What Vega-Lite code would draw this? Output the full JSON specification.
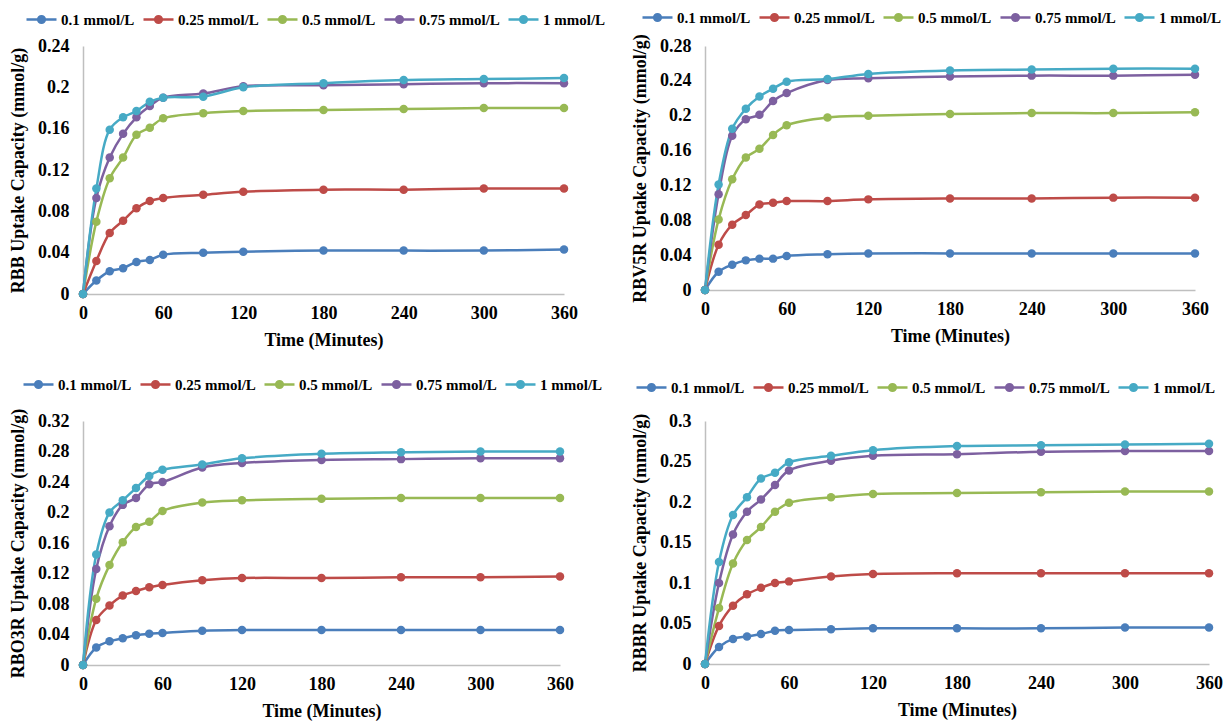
{
  "$schema": "https://vega.github.io/schema/vega-lite/v6.json",
  "background": "white",
  "padding": {"left": 9, "top": 1, "right": 4, "bottom": 2},
  "bounds": "flush",
  "columns": 2,
  "spacing": {"row": 127, "column": 141},
  "resolve": {"legend": {"color": "independent"}},
  "data": {"values": [
    {"panel":"RBB","conc":"0.1 mmol/L","time":0,"value":0},{"panel":"RBB","conc":"0.1 mmol/L","time":10,"value":0.013},{"panel":"RBB","conc":"0.1 mmol/L","time":20,"value":0.022},{"panel":"RBB","conc":"0.1 mmol/L","time":30,"value":0.025},{"panel":"RBB","conc":"0.1 mmol/L","time":40,"value":0.031},{"panel":"RBB","conc":"0.1 mmol/L","time":50,"value":0.033},{"panel":"RBB","conc":"0.1 mmol/L","time":60,"value":0.038},{"panel":"RBB","conc":"0.1 mmol/L","time":90,"value":0.040},{"panel":"RBB","conc":"0.1 mmol/L","time":120,"value":0.041},{"panel":"RBB","conc":"0.1 mmol/L","time":180,"value":0.042},{"panel":"RBB","conc":"0.1 mmol/L","time":240,"value":0.042},{"panel":"RBB","conc":"0.1 mmol/L","time":300,"value":0.042},{"panel":"RBB","conc":"0.1 mmol/L","time":360,"value":0.043},
    {"panel":"RBB","conc":"0.25 mmol/L","time":0,"value":0},{"panel":"RBB","conc":"0.25 mmol/L","time":10,"value":0.032},{"panel":"RBB","conc":"0.25 mmol/L","time":20,"value":0.059},{"panel":"RBB","conc":"0.25 mmol/L","time":30,"value":0.071},{"panel":"RBB","conc":"0.25 mmol/L","time":40,"value":0.083},{"panel":"RBB","conc":"0.25 mmol/L","time":50,"value":0.090},{"panel":"RBB","conc":"0.25 mmol/L","time":60,"value":0.093},{"panel":"RBB","conc":"0.25 mmol/L","time":90,"value":0.096},{"panel":"RBB","conc":"0.25 mmol/L","time":120,"value":0.099},{"panel":"RBB","conc":"0.25 mmol/L","time":180,"value":0.101},{"panel":"RBB","conc":"0.25 mmol/L","time":240,"value":0.101},{"panel":"RBB","conc":"0.25 mmol/L","time":300,"value":0.102},{"panel":"RBB","conc":"0.25 mmol/L","time":360,"value":0.102},
    {"panel":"RBB","conc":"0.5 mmol/L","time":0,"value":0},{"panel":"RBB","conc":"0.5 mmol/L","time":10,"value":0.070},{"panel":"RBB","conc":"0.5 mmol/L","time":20,"value":0.112},{"panel":"RBB","conc":"0.5 mmol/L","time":30,"value":0.132},{"panel":"RBB","conc":"0.5 mmol/L","time":40,"value":0.154},{"panel":"RBB","conc":"0.5 mmol/L","time":50,"value":0.161},{"panel":"RBB","conc":"0.5 mmol/L","time":60,"value":0.170},{"panel":"RBB","conc":"0.5 mmol/L","time":90,"value":0.175},{"panel":"RBB","conc":"0.5 mmol/L","time":120,"value":0.177},{"panel":"RBB","conc":"0.5 mmol/L","time":180,"value":0.178},{"panel":"RBB","conc":"0.5 mmol/L","time":240,"value":0.179},{"panel":"RBB","conc":"0.5 mmol/L","time":300,"value":0.180},{"panel":"RBB","conc":"0.5 mmol/L","time":360,"value":0.180},
    {"panel":"RBB","conc":"0.75 mmol/L","time":0,"value":0},{"panel":"RBB","conc":"0.75 mmol/L","time":10,"value":0.093},{"panel":"RBB","conc":"0.75 mmol/L","time":20,"value":0.132},{"panel":"RBB","conc":"0.75 mmol/L","time":30,"value":0.155},{"panel":"RBB","conc":"0.75 mmol/L","time":40,"value":0.171},{"panel":"RBB","conc":"0.75 mmol/L","time":50,"value":0.182},{"panel":"RBB","conc":"0.75 mmol/L","time":60,"value":0.190},{"panel":"RBB","conc":"0.75 mmol/L","time":90,"value":0.194},{"panel":"RBB","conc":"0.75 mmol/L","time":120,"value":0.201},{"panel":"RBB","conc":"0.75 mmol/L","time":180,"value":0.202},{"panel":"RBB","conc":"0.75 mmol/L","time":240,"value":0.203},{"panel":"RBB","conc":"0.75 mmol/L","time":300,"value":0.204},{"panel":"RBB","conc":"0.75 mmol/L","time":360,"value":0.204},
    {"panel":"RBB","conc":"1 mmol/L","time":0,"value":0},{"panel":"RBB","conc":"1 mmol/L","time":10,"value":0.102},{"panel":"RBB","conc":"1 mmol/L","time":20,"value":0.159},{"panel":"RBB","conc":"1 mmol/L","time":30,"value":0.171},{"panel":"RBB","conc":"1 mmol/L","time":40,"value":0.177},{"panel":"RBB","conc":"1 mmol/L","time":50,"value":0.186},{"panel":"RBB","conc":"1 mmol/L","time":60,"value":0.190},{"panel":"RBB","conc":"1 mmol/L","time":90,"value":0.191},{"panel":"RBB","conc":"1 mmol/L","time":120,"value":0.200},{"panel":"RBB","conc":"1 mmol/L","time":180,"value":0.204},{"panel":"RBB","conc":"1 mmol/L","time":240,"value":0.207},{"panel":"RBB","conc":"1 mmol/L","time":300,"value":0.208},{"panel":"RBB","conc":"1 mmol/L","time":360,"value":0.209},

    {"panel":"RBV5R","conc":"0.1 mmol/L","time":0,"value":0},{"panel":"RBV5R","conc":"0.1 mmol/L","time":10,"value":0.021},{"panel":"RBV5R","conc":"0.1 mmol/L","time":20,"value":0.029},{"panel":"RBV5R","conc":"0.1 mmol/L","time":30,"value":0.034},{"panel":"RBV5R","conc":"0.1 mmol/L","time":40,"value":0.036},{"panel":"RBV5R","conc":"0.1 mmol/L","time":50,"value":0.036},{"panel":"RBV5R","conc":"0.1 mmol/L","time":60,"value":0.039},{"panel":"RBV5R","conc":"0.1 mmol/L","time":90,"value":0.041},{"panel":"RBV5R","conc":"0.1 mmol/L","time":120,"value":0.042},{"panel":"RBV5R","conc":"0.1 mmol/L","time":180,"value":0.042},{"panel":"RBV5R","conc":"0.1 mmol/L","time":240,"value":0.042},{"panel":"RBV5R","conc":"0.1 mmol/L","time":300,"value":0.042},{"panel":"RBV5R","conc":"0.1 mmol/L","time":360,"value":0.042},
    {"panel":"RBV5R","conc":"0.25 mmol/L","time":0,"value":0},{"panel":"RBV5R","conc":"0.25 mmol/L","time":10,"value":0.052},{"panel":"RBV5R","conc":"0.25 mmol/L","time":20,"value":0.075},{"panel":"RBV5R","conc":"0.25 mmol/L","time":30,"value":0.086},{"panel":"RBV5R","conc":"0.25 mmol/L","time":40,"value":0.098},{"panel":"RBV5R","conc":"0.25 mmol/L","time":50,"value":0.100},{"panel":"RBV5R","conc":"0.25 mmol/L","time":60,"value":0.102},{"panel":"RBV5R","conc":"0.25 mmol/L","time":90,"value":0.102},{"panel":"RBV5R","conc":"0.25 mmol/L","time":120,"value":0.104},{"panel":"RBV5R","conc":"0.25 mmol/L","time":180,"value":0.105},{"panel":"RBV5R","conc":"0.25 mmol/L","time":240,"value":0.105},{"panel":"RBV5R","conc":"0.25 mmol/L","time":300,"value":0.106},{"panel":"RBV5R","conc":"0.25 mmol/L","time":360,"value":0.106},
    {"panel":"RBV5R","conc":"0.5 mmol/L","time":0,"value":0},{"panel":"RBV5R","conc":"0.5 mmol/L","time":10,"value":0.081},{"panel":"RBV5R","conc":"0.5 mmol/L","time":20,"value":0.127},{"panel":"RBV5R","conc":"0.5 mmol/L","time":30,"value":0.152},{"panel":"RBV5R","conc":"0.5 mmol/L","time":40,"value":0.162},{"panel":"RBV5R","conc":"0.5 mmol/L","time":50,"value":0.178},{"panel":"RBV5R","conc":"0.5 mmol/L","time":60,"value":0.189},{"panel":"RBV5R","conc":"0.5 mmol/L","time":90,"value":0.198},{"panel":"RBV5R","conc":"0.5 mmol/L","time":120,"value":0.200},{"panel":"RBV5R","conc":"0.5 mmol/L","time":180,"value":0.202},{"panel":"RBV5R","conc":"0.5 mmol/L","time":240,"value":0.203},{"panel":"RBV5R","conc":"0.5 mmol/L","time":300,"value":0.203},{"panel":"RBV5R","conc":"0.5 mmol/L","time":360,"value":0.204},
    {"panel":"RBV5R","conc":"0.75 mmol/L","time":0,"value":0},{"panel":"RBV5R","conc":"0.75 mmol/L","time":10,"value":0.110},{"panel":"RBV5R","conc":"0.75 mmol/L","time":20,"value":0.177},{"panel":"RBV5R","conc":"0.75 mmol/L","time":30,"value":0.196},{"panel":"RBV5R","conc":"0.75 mmol/L","time":40,"value":0.201},{"panel":"RBV5R","conc":"0.75 mmol/L","time":50,"value":0.217},{"panel":"RBV5R","conc":"0.75 mmol/L","time":60,"value":0.226},{"panel":"RBV5R","conc":"0.75 mmol/L","time":90,"value":0.241},{"panel":"RBV5R","conc":"0.75 mmol/L","time":120,"value":0.243},{"panel":"RBV5R","conc":"0.75 mmol/L","time":180,"value":0.245},{"panel":"RBV5R","conc":"0.75 mmol/L","time":240,"value":0.246},{"panel":"RBV5R","conc":"0.75 mmol/L","time":300,"value":0.246},{"panel":"RBV5R","conc":"0.75 mmol/L","time":360,"value":0.247},
    {"panel":"RBV5R","conc":"1 mmol/L","time":0,"value":0},{"panel":"RBV5R","conc":"1 mmol/L","time":10,"value":0.121},{"panel":"RBV5R","conc":"1 mmol/L","time":20,"value":0.185},{"panel":"RBV5R","conc":"1 mmol/L","time":30,"value":0.208},{"panel":"RBV5R","conc":"1 mmol/L","time":40,"value":0.222},{"panel":"RBV5R","conc":"1 mmol/L","time":50,"value":0.231},{"panel":"RBV5R","conc":"1 mmol/L","time":60,"value":0.239},{"panel":"RBV5R","conc":"1 mmol/L","time":90,"value":0.242},{"panel":"RBV5R","conc":"1 mmol/L","time":120,"value":0.248},{"panel":"RBV5R","conc":"1 mmol/L","time":180,"value":0.252},{"panel":"RBV5R","conc":"1 mmol/L","time":240,"value":0.253},{"panel":"RBV5R","conc":"1 mmol/L","time":300,"value":0.254},{"panel":"RBV5R","conc":"1 mmol/L","time":360,"value":0.254},

    {"panel":"RBO3R","conc":"0.1 mmol/L","time":0,"value":0},{"panel":"RBO3R","conc":"0.1 mmol/L","time":10,"value":0.023},{"panel":"RBO3R","conc":"0.1 mmol/L","time":20,"value":0.031},{"panel":"RBO3R","conc":"0.1 mmol/L","time":30,"value":0.035},{"panel":"RBO3R","conc":"0.1 mmol/L","time":40,"value":0.039},{"panel":"RBO3R","conc":"0.1 mmol/L","time":50,"value":0.041},{"panel":"RBO3R","conc":"0.1 mmol/L","time":60,"value":0.042},{"panel":"RBO3R","conc":"0.1 mmol/L","time":90,"value":0.045},{"panel":"RBO3R","conc":"0.1 mmol/L","time":120,"value":0.046},{"panel":"RBO3R","conc":"0.1 mmol/L","time":180,"value":0.046},{"panel":"RBO3R","conc":"0.1 mmol/L","time":240,"value":0.046},{"panel":"RBO3R","conc":"0.1 mmol/L","time":300,"value":0.046},{"panel":"RBO3R","conc":"0.1 mmol/L","time":360,"value":0.046},
    {"panel":"RBO3R","conc":"0.25 mmol/L","time":0,"value":0},{"panel":"RBO3R","conc":"0.25 mmol/L","time":10,"value":0.059},{"panel":"RBO3R","conc":"0.25 mmol/L","time":20,"value":0.078},{"panel":"RBO3R","conc":"0.25 mmol/L","time":30,"value":0.091},{"panel":"RBO3R","conc":"0.25 mmol/L","time":40,"value":0.097},{"panel":"RBO3R","conc":"0.25 mmol/L","time":50,"value":0.102},{"panel":"RBO3R","conc":"0.25 mmol/L","time":60,"value":0.105},{"panel":"RBO3R","conc":"0.25 mmol/L","time":90,"value":0.111},{"panel":"RBO3R","conc":"0.25 mmol/L","time":120,"value":0.114},{"panel":"RBO3R","conc":"0.25 mmol/L","time":180,"value":0.114},{"panel":"RBO3R","conc":"0.25 mmol/L","time":240,"value":0.115},{"panel":"RBO3R","conc":"0.25 mmol/L","time":300,"value":0.115},{"panel":"RBO3R","conc":"0.25 mmol/L","time":360,"value":0.116},
    {"panel":"RBO3R","conc":"0.5 mmol/L","time":0,"value":0},{"panel":"RBO3R","conc":"0.5 mmol/L","time":10,"value":0.087},{"panel":"RBO3R","conc":"0.5 mmol/L","time":20,"value":0.131},{"panel":"RBO3R","conc":"0.5 mmol/L","time":30,"value":0.161},{"panel":"RBO3R","conc":"0.5 mmol/L","time":40,"value":0.181},{"panel":"RBO3R","conc":"0.5 mmol/L","time":50,"value":0.188},{"panel":"RBO3R","conc":"0.5 mmol/L","time":60,"value":0.202},{"panel":"RBO3R","conc":"0.5 mmol/L","time":90,"value":0.213},{"panel":"RBO3R","conc":"0.5 mmol/L","time":120,"value":0.216},{"panel":"RBO3R","conc":"0.5 mmol/L","time":180,"value":0.218},{"panel":"RBO3R","conc":"0.5 mmol/L","time":240,"value":0.219},{"panel":"RBO3R","conc":"0.5 mmol/L","time":300,"value":0.219},{"panel":"RBO3R","conc":"0.5 mmol/L","time":360,"value":0.219},
    {"panel":"RBO3R","conc":"0.75 mmol/L","time":0,"value":0},{"panel":"RBO3R","conc":"0.75 mmol/L","time":10,"value":0.126},{"panel":"RBO3R","conc":"0.75 mmol/L","time":20,"value":0.182},{"panel":"RBO3R","conc":"0.75 mmol/L","time":30,"value":0.210},{"panel":"RBO3R","conc":"0.75 mmol/L","time":40,"value":0.219},{"panel":"RBO3R","conc":"0.75 mmol/L","time":50,"value":0.237},{"panel":"RBO3R","conc":"0.75 mmol/L","time":60,"value":0.240},{"panel":"RBO3R","conc":"0.75 mmol/L","time":90,"value":0.259},{"panel":"RBO3R","conc":"0.75 mmol/L","time":120,"value":0.265},{"panel":"RBO3R","conc":"0.75 mmol/L","time":180,"value":0.269},{"panel":"RBO3R","conc":"0.75 mmol/L","time":240,"value":0.270},{"panel":"RBO3R","conc":"0.75 mmol/L","time":300,"value":0.271},{"panel":"RBO3R","conc":"0.75 mmol/L","time":360,"value":0.271},
    {"panel":"RBO3R","conc":"1 mmol/L","time":0,"value":0},{"panel":"RBO3R","conc":"1 mmol/L","time":10,"value":0.145},{"panel":"RBO3R","conc":"1 mmol/L","time":20,"value":0.200},{"panel":"RBO3R","conc":"1 mmol/L","time":30,"value":0.216},{"panel":"RBO3R","conc":"1 mmol/L","time":40,"value":0.232},{"panel":"RBO3R","conc":"1 mmol/L","time":50,"value":0.248},{"panel":"RBO3R","conc":"1 mmol/L","time":60,"value":0.256},{"panel":"RBO3R","conc":"1 mmol/L","time":90,"value":0.263},{"panel":"RBO3R","conc":"1 mmol/L","time":120,"value":0.271},{"panel":"RBO3R","conc":"1 mmol/L","time":180,"value":0.277},{"panel":"RBO3R","conc":"1 mmol/L","time":240,"value":0.279},{"panel":"RBO3R","conc":"1 mmol/L","time":300,"value":0.280},{"panel":"RBO3R","conc":"1 mmol/L","time":360,"value":0.280},

    {"panel":"RBBR","conc":"0.1 mmol/L","time":0,"value":0},{"panel":"RBBR","conc":"0.1 mmol/L","time":10,"value":0.021},{"panel":"RBBR","conc":"0.1 mmol/L","time":20,"value":0.031},{"panel":"RBBR","conc":"0.1 mmol/L","time":30,"value":0.034},{"panel":"RBBR","conc":"0.1 mmol/L","time":40,"value":0.037},{"panel":"RBBR","conc":"0.1 mmol/L","time":50,"value":0.041},{"panel":"RBBR","conc":"0.1 mmol/L","time":60,"value":0.042},{"panel":"RBBR","conc":"0.1 mmol/L","time":90,"value":0.043},{"panel":"RBBR","conc":"0.1 mmol/L","time":120,"value":0.044},{"panel":"RBBR","conc":"0.1 mmol/L","time":180,"value":0.044},{"panel":"RBBR","conc":"0.1 mmol/L","time":240,"value":0.044},{"panel":"RBBR","conc":"0.1 mmol/L","time":300,"value":0.045},{"panel":"RBBR","conc":"0.1 mmol/L","time":360,"value":0.045},
    {"panel":"RBBR","conc":"0.25 mmol/L","time":0,"value":0},{"panel":"RBBR","conc":"0.25 mmol/L","time":10,"value":0.047},{"panel":"RBBR","conc":"0.25 mmol/L","time":20,"value":0.072},{"panel":"RBBR","conc":"0.25 mmol/L","time":30,"value":0.086},{"panel":"RBBR","conc":"0.25 mmol/L","time":40,"value":0.094},{"panel":"RBBR","conc":"0.25 mmol/L","time":50,"value":0.100},{"panel":"RBBR","conc":"0.25 mmol/L","time":60,"value":0.102},{"panel":"RBBR","conc":"0.25 mmol/L","time":90,"value":0.108},{"panel":"RBBR","conc":"0.25 mmol/L","time":120,"value":0.111},{"panel":"RBBR","conc":"0.25 mmol/L","time":180,"value":0.112},{"panel":"RBBR","conc":"0.25 mmol/L","time":240,"value":0.112},{"panel":"RBBR","conc":"0.25 mmol/L","time":300,"value":0.112},{"panel":"RBBR","conc":"0.25 mmol/L","time":360,"value":0.112},
    {"panel":"RBBR","conc":"0.5 mmol/L","time":0,"value":0},{"panel":"RBBR","conc":"0.5 mmol/L","time":10,"value":0.069},{"panel":"RBBR","conc":"0.5 mmol/L","time":20,"value":0.124},{"panel":"RBBR","conc":"0.5 mmol/L","time":30,"value":0.153},{"panel":"RBBR","conc":"0.5 mmol/L","time":40,"value":0.169},{"panel":"RBBR","conc":"0.5 mmol/L","time":50,"value":0.188},{"panel":"RBBR","conc":"0.5 mmol/L","time":60,"value":0.199},{"panel":"RBBR","conc":"0.5 mmol/L","time":90,"value":0.206},{"panel":"RBBR","conc":"0.5 mmol/L","time":120,"value":0.210},{"panel":"RBBR","conc":"0.5 mmol/L","time":180,"value":0.211},{"panel":"RBBR","conc":"0.5 mmol/L","time":240,"value":0.212},{"panel":"RBBR","conc":"0.5 mmol/L","time":300,"value":0.213},{"panel":"RBBR","conc":"0.5 mmol/L","time":360,"value":0.213},
    {"panel":"RBBR","conc":"0.75 mmol/L","time":0,"value":0},{"panel":"RBBR","conc":"0.75 mmol/L","time":10,"value":0.100},{"panel":"RBBR","conc":"0.75 mmol/L","time":20,"value":0.160},{"panel":"RBBR","conc":"0.75 mmol/L","time":30,"value":0.188},{"panel":"RBBR","conc":"0.75 mmol/L","time":40,"value":0.203},{"panel":"RBBR","conc":"0.75 mmol/L","time":50,"value":0.221},{"panel":"RBBR","conc":"0.75 mmol/L","time":60,"value":0.239},{"panel":"RBBR","conc":"0.75 mmol/L","time":90,"value":0.251},{"panel":"RBBR","conc":"0.75 mmol/L","time":120,"value":0.257},{"panel":"RBBR","conc":"0.75 mmol/L","time":180,"value":0.259},{"panel":"RBBR","conc":"0.75 mmol/L","time":240,"value":0.262},{"panel":"RBBR","conc":"0.75 mmol/L","time":300,"value":0.263},{"panel":"RBBR","conc":"0.75 mmol/L","time":360,"value":0.263},
    {"panel":"RBBR","conc":"1 mmol/L","time":0,"value":0},{"panel":"RBBR","conc":"1 mmol/L","time":10,"value":0.126},{"panel":"RBBR","conc":"1 mmol/L","time":20,"value":0.184},{"panel":"RBBR","conc":"1 mmol/L","time":30,"value":0.206},{"panel":"RBBR","conc":"1 mmol/L","time":40,"value":0.229},{"panel":"RBBR","conc":"1 mmol/L","time":50,"value":0.236},{"panel":"RBBR","conc":"1 mmol/L","time":60,"value":0.249},{"panel":"RBBR","conc":"1 mmol/L","time":90,"value":0.257},{"panel":"RBBR","conc":"1 mmol/L","time":120,"value":0.264},{"panel":"RBBR","conc":"1 mmol/L","time":180,"value":0.269},{"panel":"RBBR","conc":"1 mmol/L","time":240,"value":0.270},{"panel":"RBBR","conc":"1 mmol/L","time":300,"value":0.271},{"panel":"RBBR","conc":"1 mmol/L","time":360,"value":0.272}
  ]},
  "concat": [
    {
      "width": 481, "height": 248,
      "transform": [{"filter": "datum.panel === 'RBB'"}],
      "mark": {"type": "line", "interpolate": "catmull-rom", "strokeWidth": 2.5, "point": {"filled": true, "size": 72, "opacity": 1}},
      "encoding": {
        "x": {"field": "time", "type": "quantitative", "scale": {"domain": [0, 360], "nice": false}, "axis": {"values": [0, 60, 120, 180, 240, 300, 360], "title": "Time (Minutes)"}},
        "y": {"field": "value", "type": "quantitative", "scale": {"domain": [0, 0.24], "nice": false}, "axis": {"values": [0, 0.04, 0.08, 0.12, 0.16, 0.2, 0.24], "title": "RBB Uptake Capacity (mmol/g)"}},
        "color": {"field": "conc", "type": "nominal", "scale": {"domain": ["0.1 mmol/L", "0.25 mmol/L", "0.5 mmol/L", "0.75 mmol/L", "1 mmol/L"], "range": ["#4A7EBB", "#BE4B48", "#98B954", "#7D60A0", "#46AAC5"]}, "legend": {"legendX": -58, "legendY": -43}}
      }
    },
    {
      "width": 490, "height": 244,
      "transform": [{"filter": "datum.panel === 'RBV5R'"}],
      "mark": {"type": "line", "interpolate": "catmull-rom", "strokeWidth": 2.5, "point": {"filled": true, "size": 72, "opacity": 1}},
      "encoding": {
        "x": {"field": "time", "type": "quantitative", "scale": {"domain": [0, 360], "nice": false}, "axis": {"values": [0, 60, 120, 180, 240, 300, 360], "title": "Time (Minutes)"}},
        "y": {"field": "value", "type": "quantitative", "scale": {"domain": [0, 0.28], "nice": false}, "axis": {"values": [0, 0.04, 0.08, 0.12, 0.16, 0.2, 0.24, 0.28], "title": "RBV5R Uptake Capacity (mmol/g)"}},
        "color": {"field": "conc", "type": "nominal", "scale": {"domain": ["0.1 mmol/L", "0.25 mmol/L", "0.5 mmol/L", "0.75 mmol/L", "1 mmol/L"], "range": ["#4A7EBB", "#BE4B48", "#98B954", "#7D60A0", "#46AAC5"]}, "legend": {"legendX": -64, "legendY": -45}}
      }
    },
    {
      "width": 477, "height": 244,
      "transform": [{"filter": "datum.panel === 'RBO3R'"}],
      "mark": {"type": "line", "interpolate": "catmull-rom", "strokeWidth": 2.5, "point": {"filled": true, "size": 72, "opacity": 1}},
      "encoding": {
        "x": {"field": "time", "type": "quantitative", "scale": {"domain": [0, 360], "nice": false}, "axis": {"values": [0, 60, 120, 180, 240, 300, 360], "title": "Time (Minutes)"}},
        "y": {"field": "value", "type": "quantitative", "scale": {"domain": [0, 0.32], "nice": false}, "axis": {"values": [0, 0.04, 0.08, 0.12, 0.16, 0.2, 0.24, 0.28, 0.32], "title": "RBO3R Uptake Capacity (mmol/g)"}},
        "color": {"field": "conc", "type": "nominal", "scale": {"domain": ["0.1 mmol/L", "0.25 mmol/L", "0.5 mmol/L", "0.75 mmol/L", "1 mmol/L"], "range": ["#4A7EBB", "#BE4B48", "#98B954", "#7D60A0", "#46AAC5"]}, "legend": {"legendX": -61, "legendY": -53}}
      }
    },
    {
      "width": 504, "height": 243,
      "transform": [{"filter": "datum.panel === 'RBBR'"}],
      "mark": {"type": "line", "interpolate": "catmull-rom", "strokeWidth": 2.5, "point": {"filled": true, "size": 72, "opacity": 1}},
      "encoding": {
        "x": {"field": "time", "type": "quantitative", "scale": {"domain": [0, 360], "nice": false}, "axis": {"values": [0, 60, 120, 180, 240, 300, 360], "title": "Time (Minutes)"}},
        "y": {"field": "value", "type": "quantitative", "scale": {"domain": [0, 0.3], "nice": false}, "axis": {"values": [0, 0.05, 0.1, 0.15, 0.2, 0.25, 0.3], "title": "RBBR Uptake Capacity (mmol/g)"}},
        "color": {"field": "conc", "type": "nominal", "scale": {"domain": ["0.1 mmol/L", "0.25 mmol/L", "0.5 mmol/L", "0.75 mmol/L", "1 mmol/L"], "range": ["#4A7EBB", "#BE4B48", "#98B954", "#7D60A0", "#46AAC5"]}, "legend": {"legendX": -70, "legendY": -50}}
      }
    }
  ],
  "config": {
    "font": "Liberation Serif, Times New Roman, DejaVu Serif, serif",
    "view": {"stroke": null},
    "axis": {
      "grid": false,
      "ticks": false,
      "domainColor": "#BFBFBF",
      "domainWidth": 1.5,
      "labelFont": "Liberation Serif, Times New Roman, DejaVu Serif, serif",
      "labelFontWeight": "bold",
      "labelFontSize": 18,
      "labelColor": "#000000",
      "titleFont": "Liberation Serif, Times New Roman, DejaVu Serif, serif",
      "titleFontWeight": "bold",
      "titleFontSize": 18,
      "titleColor": "#000000"
    },
    "axisX": {"labelPadding": 10, "titlePadding": 9, "labelFlush": false},
    "axisY": {"labelPadding": 14, "titlePadding": 10, "format": "~g"},
    "legend": {
      "orient": "none",
      "direction": "horizontal",
      "columns": 5,
      "gridAlign": "none",
      "title": null,
      "columnPadding": 3,
      "labelOffset": 3,
      "labelFont": "Liberation Serif, Times New Roman, DejaVu Serif, serif",
      "labelFontWeight": "bold",
      "labelFontSize": 15,
      "labelColor": "#000000",
      "symbolType": "M-1,0L1,0M-0.23,0a0.23,0.23 0 1,0 0.46,0a0.23,0.23 0 1,0 -0.46,0M-0.16,0a0.16,0.16 0 1,0 0.32,0a0.16,0.16 0 1,0 -0.32,0M-0.09,0a0.09,0.09 0 1,0 0.18,0a0.09,0.09 0 1,0 -0.18,0M-0.03,0a0.03,0.03 0 1,0 0.06,0a0.03,0.03 0 1,0 -0.06,0",
      "symbolSize": 900,
      "symbolStrokeWidth": 2.3
    }
  }
}
